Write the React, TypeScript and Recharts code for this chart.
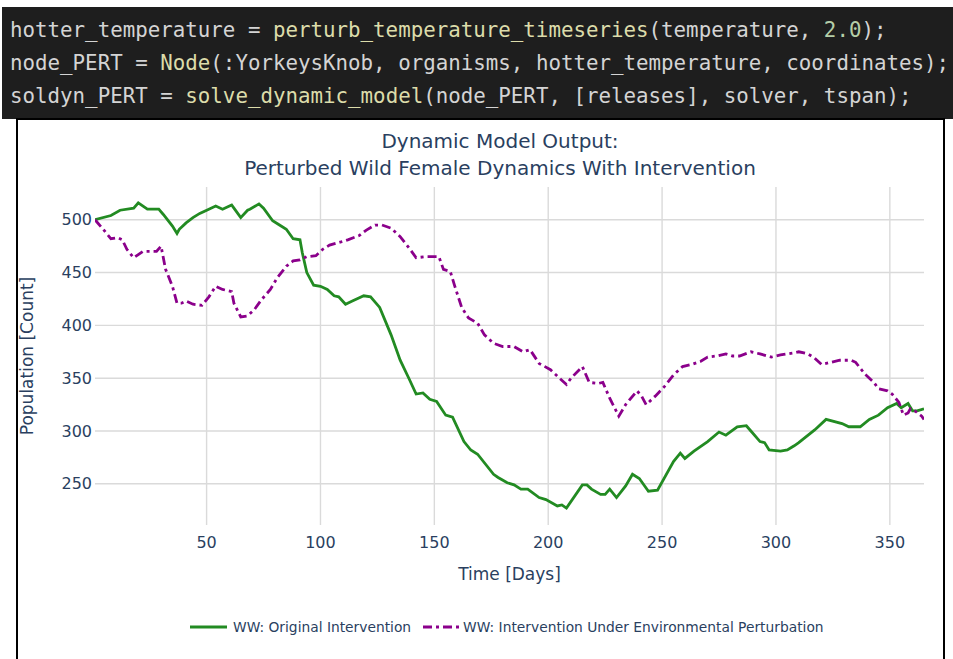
import React from 'react';
import { LineChart, Line, XAxis, YAxis, CartesianGrid, Legend } from 'recharts';

// WW: Original Intervention (green)
const originalDays = [
  1, 8, 12, 18, 20, 24, 29, 31, 35, 37, 38, 41, 44, 47, 51, 54, 57, 61, 62, 65,
  68, 69, 73, 75, 79, 82, 85, 88, 91, 92, 94, 97, 100, 103, 106, 108, 111, 114, 119, 122,
  126, 131, 135, 139, 142, 145, 148, 151, 155, 158, 163, 166, 169, 176, 178, 182, 185, 188, 191, 196,
  199, 204, 206, 208, 215, 217, 219, 223, 225, 227, 230, 234, 237, 240, 244, 248, 255, 258, 260, 264,
  270, 275, 278, 283, 287, 289, 293, 295, 297, 302, 305, 308, 310, 317, 322, 329, 332, 337, 341, 345,
  349, 353, 355, 358, 360, 362, 365,
];
const originalPop = [
  500, 504, 509, 511, 516, 510, 510, 505, 494, 487, 491, 497, 502, 506, 510, 513, 510, 514, 511, 502,
  509, 510, 515, 511, 499, 495, 491, 482, 481, 469, 450, 438, 437, 434, 428, 427, 420, 423, 428, 427,
  417, 391, 367, 349, 335, 336, 330, 328, 315, 313, 290, 282, 278, 259, 256, 251, 249, 245, 245, 237,
  235, 229, 230, 227, 249, 249, 245, 240, 240, 245, 237, 248, 259, 255, 243, 244, 271, 279, 274, 281,
  290, 299, 296, 304, 305, 300, 290, 289, 282, 281, 282, 286, 289, 301, 311, 307, 304, 304, 311, 315,
  322, 326, 322, 326, 319, 319, 321,
];

// WW: Intervention Under Environmental Perturbation (purple, dash-dot)
const perturbedDays = [
  1, 5, 8, 11, 13, 15, 18, 20, 22, 25, 28, 30, 32, 35, 37, 39, 41, 44, 48, 51,
  54, 57, 61, 62, 65, 68, 71, 74, 78, 81, 85, 88, 91, 94, 98, 101, 104, 109, 112, 117,
  120, 124, 127, 131, 135, 139, 142, 146, 152, 154, 157, 159, 162, 165, 169, 172, 176, 180, 185, 189,
  192, 196, 201, 204, 208, 210, 215, 218, 222, 224, 227, 231, 234, 239, 241, 243, 247, 251, 255, 259,
  263, 267, 270, 274, 278, 281, 284, 289, 293, 298, 302, 308, 310, 314, 317, 320, 324, 328, 333, 335,
  339, 343, 345, 349, 351, 354, 356, 358, 359, 361, 364, 365,
];
const perturbedPop = [
  500, 490, 482, 483, 481, 472, 464, 467, 470, 470, 470, 475, 453, 437, 421, 421, 423, 420, 419, 427,
  437, 434, 432, 421, 408, 409, 415, 424, 434, 445, 456, 461, 462, 465, 466, 472, 476, 479, 481, 485,
  490, 495, 495, 492, 484, 473, 464, 465, 465, 453, 451, 437, 417, 407, 402, 391, 383, 380, 380, 375,
  377, 364, 358, 352, 344, 350, 361, 346, 345, 346, 331, 314, 325, 338, 333, 325, 333, 342, 353, 361,
  363, 366, 370, 371, 373, 371, 371, 375, 373, 370, 372, 374, 375, 373, 369, 363, 365, 367, 367, 365,
  354, 346, 340, 338, 335, 327, 315, 317, 321, 319, 314, 311,
];

const xDomain = [1, 365];
const yDomain = [211, 531];
const xTicks = [50, 100, 150, 200, 250, 300, 350];
const yTicks = [250, 300, 350, 400, 450, 500];

const originalData = originalDays.map((day, i) => ({ day, pop: originalPop[i] }));
const perturbedData = perturbedDays.map((day, i) => ({ day, pop: perturbedPop[i] }));

const TEXT = '#2a3f5f';
const FONT = '"DejaVu Sans", Verdana, sans-serif';
const GREEN = '#228b22';
const PURPLE = '#8b008b';
const DASHDOT = '9 4 3 4';

const codeLines = [
  [
    { t: 'hotter_temperature = ' },
    { t: 'perturb_temperature_timeseries', c: '#dcdcaa' },
    { t: '(temperature, ' },
    { t: '2.0', c: '#b5cea8' },
    { t: ');' },
  ],
  [
    { t: 'node_PERT = ' },
    { t: 'Node', c: '#dcdcaa' },
    { t: '(:YorkeysKnob, organisms, hotter_temperature, coordinates);' },
  ],
  [
    { t: 'soldyn_PERT = ' },
    { t: 'solve_dynamic_model', c: '#dcdcaa' },
    { t: '(node_PERT, [releases], solver, tspan);' },
  ],
];

// grid only at the tick values, no lines on the plot edges
const vGrid = ({ offset }: any) =>
  xTicks.map((t) => offset.left + ((t - xDomain[0]) / (xDomain[1] - xDomain[0])) * offset.width);
const hGrid = ({ offset }: any) =>
  yTicks.map((t) => offset.top + ((yDomain[1] - t) / (yDomain[1] - yDomain[0])) * offset.height);

function LegendContent() {
  return (
    <div style={{ display: 'flex', alignItems: 'center', fontFamily: FONT, fontSize: 13.8, color: TEXT, whiteSpace: 'nowrap' }}>
      <svg width={37} height={20}>
        <line x1={0} y1={10} x2={37} y2={10} stroke={GREEN} strokeWidth={3} />
      </svg>
      <span style={{ marginLeft: 6 }}>WW: Original Intervention</span>
      <svg width={37} height={20} style={{ marginLeft: 12 }}>
        <line x1={0} y1={10} x2={37} y2={10} stroke={PURPLE} strokeWidth={3} strokeDasharray={DASHDOT} />
      </svg>
      <span style={{ marginLeft: 3 }}>WW: Intervention Under Environmental Perturbation</span>
    </div>
  );
}

export default function App() {
  return (
    <div style={{ position: 'fixed', left: 0, top: 0, width: 953, height: 659, background: '#fff', overflow: 'hidden' }}>
      <div
        style={{
          position: 'absolute', left: 2, top: 7, width: 951, height: 112, background: '#1e1e1e',
          fontFamily: '"DejaVu Sans Mono", monospace', fontSize: 20.8, color: '#d4d4d4',
        }}
      >
        {codeLines.map((line, i) => (
          <div key={i} style={{ position: 'absolute', left: 8, top: 8 + i * 33, lineHeight: '30px', whiteSpace: 'pre' }}>
            {line.map((s, j) => (
              <span key={j} style={s.c ? { color: s.c } : undefined}>{s.t}</span>
            ))}
          </div>
        ))}
      </div>

      <div
        style={{
          position: 'absolute', left: 16, top: 118, width: 929, height: 560,
          border: '2px solid #000', boxSizing: 'border-box', background: '#fff',
        }}
      >
        <div
          style={{
            position: 'absolute', left: 182, top: 8, width: 600, textAlign: 'center',
            fontFamily: FONT, fontSize: 20, lineHeight: '27px', color: TEXT,
          }}
        >
          Dynamic Model Output:
          <br />
          Perturbed Wild Female Dynamics With Intervention
        </div>

        <LineChart width={925} height={539} margin={{ top: 67, right: 19, left: 17, bottom: 74 }}>
          <CartesianGrid
            stroke="#dadada"
            strokeWidth={1.4}
            verticalCoordinatesGenerator={vGrid}
            horizontalCoordinatesGenerator={hGrid}
          />
          <XAxis
            type="number"
            dataKey="day"
            domain={xDomain}
            ticks={xTicks}
            allowDataOverflow
            axisLine={false}
            tickLine={false}
            tickSize={0}
            tickMargin={12}
            height={60}
            tick={{ fill: TEXT, fontSize: 16, fontFamily: FONT }}
            label={{ value: 'Time [Days]', position: 'insideBottom', offset: 5, fill: TEXT, fontSize: 17, fontFamily: FONT }}
          />
          <YAxis
            type="number"
            domain={yDomain}
            ticks={yTicks}
            allowDataOverflow
            axisLine={false}
            tickLine={false}
            tickSize={0}
            tickMargin={3}
            width={60}
            tick={{ fill: TEXT, fontSize: 16, fontFamily: FONT }}
            label={{
              value: 'Population [Count]', angle: -90, position: 'insideLeft', offset: -8,
              fill: TEXT, fontSize: 17, fontFamily: FONT, style: { textAnchor: 'middle' },
            }}
          />
          <Legend
            layout="vertical"
            align="center"
            verticalAlign="middle"
            content={<LegendContent />}
            wrapperStyle={{ left: 172, top: 497, width: 'auto' }}
          />
          <Line
            data={originalData}
            dataKey="pop"
            name="WW: Original Intervention"
            type="linear"
            stroke={GREEN}
            strokeWidth={2.8}
            dot={false}
            isAnimationActive={false}
          />
          <Line
            data={perturbedData}
            dataKey="pop"
            name="WW: Intervention Under Environmental Perturbation"
            type="linear"
            stroke={PURPLE}
            strokeWidth={2.8}
            strokeDasharray={DASHDOT}
            dot={false}
            isAnimationActive={false}
          />
        </LineChart>
      </div>
    </div>
  );
}
